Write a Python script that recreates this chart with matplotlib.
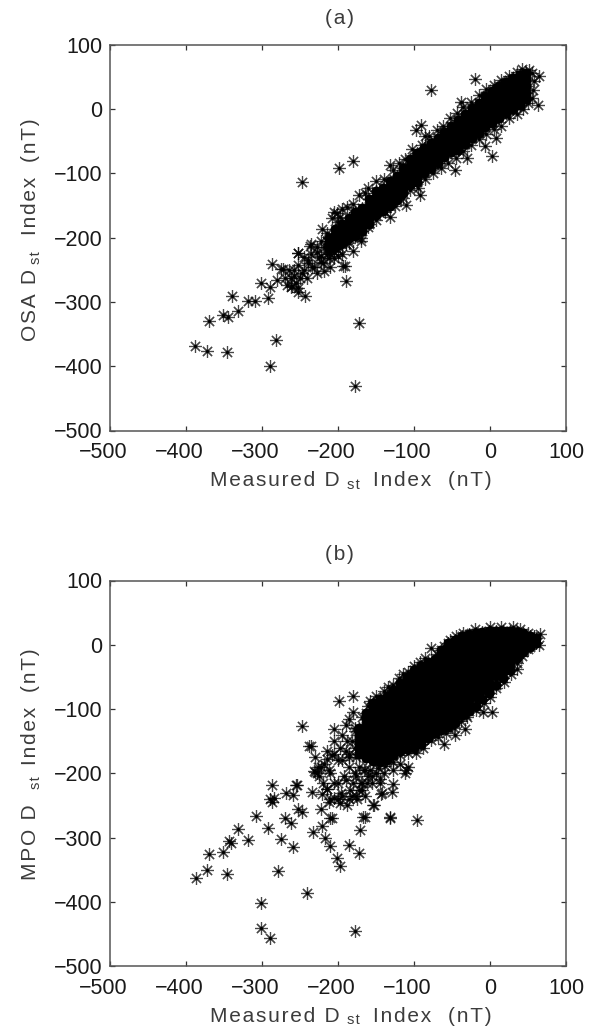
import matplotlib
matplotlib.use("Agg")
import matplotlib.pyplot as plt
from matplotlib.transforms import ScaledTranslation

W, H = 594, 1027

ticks = [-500, -400, -300, -200, -100, 0, 100]

# panel (a): separate stars
measured_a = [-388, -372, -346, -370, -351, -345, -340, -331, -318, -309, -292, -301, -289, -287, -289, -282,
              -178, -172, -190, -191, -243, -253, -262, -267, -272, -280, -258, -253, -253, -241, -234, -236,
              -219, -223, -247, -199, -180, -77, -20, -91, -97, -86, -132, 63, 65, 51, -38, 8, -7, 2, -30, -46,
              -92, -110, -132, -170, -201, -188, -172, -221, -237, -252, -193, -275, -205, -198, -200, -195,
              -208, -232, -228, -220, -215, -225, -210, -205, -215, -195, -180, -170, -245, -240]
osa_a = [-369, -376, -378, -329, -320, -324, -291, -314, -299, -299, -293, -271, -276, -241, -400, -359,
         -431, -333, -268, -244, -291, -284, -276, -273, -249, -265, -260, -242, -223, -263, -245, -210,
         -252, -229, -114, -92, -80, 30, 47, -24, -32, -42, -87, 6, 52, 61, 12, -44, -57, -73, -76, -94,
         -134, -149, -167, -201, -162, -152, -134, -187, -213, -223, -244, -248, -160, -168, -175, -155,
         -170, -245, -215, -240, -225, -230, -245, -215, -205, -225, -220, -205, -250, -235]

# panel (a): stars along the rim of the band and in the lower left clump
rim_x_a = [-180, -165, -160, -150, -140, -128, -120, -112, -102, -90, -80, -70, -62, -52, -44, -35, -25, -15, -5,
           5, 15, 25, 35, 42, 55, 58, 57, 55, 50, 44, 35, 25, 15, 5, -5, -15, -25, -35, -45, -55, -65, -75, -85,
           -95, -105, -115, -125, -138, -150, -160, -170, -185, -198, -215, -222, -228, -205, -190,
           -265, -270, -255, -248, -240, -228, -222, -212, -205, -200, -235, -245, -258, -262, -250, -218, -210,
           -260, -253]
rim_y_a = [-148, -130, -122, -112, -108, -95, -84, -78, -62, -56, -42, -32, -26, -14, -6, 4, 12, 22, 32,
           38, 46, 52, 58, 62, 56, 44, 30, 18, 10, 0, -8, -14, -26, -30, -38, -46, -55, -65, -76, -83, -92, -100,
           -108, -122, -126, -138, -150, -160, -172, -184, -190, -208, -216, -192, -205, -222, -222, -210,
           -250, -262, -270, -255, -240, -255, -238, -232, -232, -228, -225, -230, -250, -262, -262, -215, -225,
           -275, -278]

# panel (a): the solid band, as (measured, [osa values])
band_a = [
    (-212, [-200, -210, -218]), (-204, [-186, -196, -206, -214]), (-195, [-178, -188, -198, -208]),
    (-186, [-170, -180, -190, -200]), (-177, [-160, -170, -180, -190, -198]),
    (-168, [-153, -162, -172, -182, -190]), (-159, [-140, -150, -160, -170, -178]),
    (-150, [-128, -137, -147, -157, -165]), (-141, [-122, -131, -141, -151, -159]),
    (-132, [-112, -122, -131, -141, -150]), (-123, [-104, -114, -123, -133, -142]),
    (-114, [-92, -102, -112, -122, -131]), (-105, [-78, -88, -98, -108, -118]),
    (-96, [-68, -78, -88, -98, -107, -114]), (-87, [-60, -70, -80, -90, -100]),
    (-78, [-52, -62, -72, -82, -92]), (-69, [-44, -54, -64, -74, -84]),
    (-60, [-35, -45, -55, -65, -75]), (-51, [-26, -36, -46, -56, -66]),
    (-42, [-17, -27, -37, -47, -57, -63]), (-33, [-8, -18, -28, -38, -48, -54]),
    (-24, [2, -8, -18, -28, -38, -45]), (-15, [10, 0, -10, -20, -30, -37]),
    (-6, [20, 10, 0, -10, -20, -28]), (3, [28, 18, 8, -2, -12, -22]),
    (12, [36, 26, 16, 6, -4, -14]), (21, [42, 32, 22, 12, 2, -6]),
    (30, [48, 38, 28, 18, 8, 0]), (39, [54, 44, 34, 24, 14, 6]), (48, [56, 46, 36, 26, 16]),
]

# panel (b): separate stars
measured_b = [-387, -372, -370, -351, -346, -344, -341, -331, -318, -308, -292, -287, -287, -284, -290,
              -275, -269, -259, -262, -270, -255, -259, -252, -247, -279, -241, -301, -301, -289, -178,
              -233, -221, -217, -210, -201, -197, -186, -173, -171, -164, -131, -153, -142, -127, -145,
              -236, -232, -234, -223, -210, -197, -212, -184, -173, -77, 66, 65, 35, 2, -9, -46, -61, -33,
              -31, -248, -238, -199, -180, -180, -186, -205, -158, -115, -134, -92, -230, -230, -254,
              -221, -208, -167, -132, -154, -143, -129, -110, -169, -96,
              -215, -205, -195, -190, -218, -208, -198, -188, -178, -225, -212, -200, -185, -172, -220,
              -205, -192, -178, -165, -155, -196, -182, -170, -210, -188, -176, -162, -200, -226, -214]
mpo_b = [-363, -350, -326, -322, -357, -305, -309, -287, -304, -266, -285, -219, -244, -238, -240,
         -302, -231, -315, -277, -270, -218, -234, -255, -260, -352, -387, -402, -441, -456, -446,
         -292, -282, -301, -314, -332, -345, -311, -324, -288, -268, -269, -249, -231, -216, -209,
         -157, -197, -229, -255, -270, -247, -244, -226, -226, -5, 17, -1, -38, -105, -105, -141, -154, -131,
         -110, -127, -158, -88, -80, -104, -115, -131, -88, -45, -66, -27, -175, -198, -219,
         -232, -270, -268, -268, -250, -232, -229, -195, -226, -273,
         -165, -150, -140, -125, -185, -172, -160, -150, -135, -205, -195, -180, -170, -160, -215,
         -215, -205, -200, -195, -205, -230, -235, -215, -240, -250, -235, -215, -240, -190, -225]

# panel (b): stars along the rim of the cloud and in the lower left clump
rim_x_b = [-168, -160, -150, -140, -128, -120, -108, -100, -85, -70, -60, -52, -45, -35, -20, 0, 15, 30, 40, 50,
           58, 58, 50, 42, 35, 28, 18, 8, 0, -8, -18, -30, -38, -48, -58, -68, -78, -88, -98, -108, -118, -128,
           -138, -148, -158, -178, -182, -190, -176, -166, -176, -160, -150, -140, -128, -118, -112, -108, -168,
           -155, -145, -185, -195, -205, -215, -222, -180, -190, -200, -210, -215, -205, -195, -185, -175, -165,
           -228, -185, -172, -178]
rim_y_b = [-112, -95, -80, -72, -62, -52, -42, -33, -20, -15, -2, 8, 13, 19, 24, 27, 27, 27, 24, 18,
           14, 5, -6, -18, -28, -45, -58, -68, -82, -90, -102, -113, -118, -130, -137, -143, -148, -160, -168,
           -168, -172, -182, -188, -192, -195, -130, -150, -165, -175, -195, -205, -205, -200, -200, -195, -185,
           -200, -190, -215, -215, -215, -190, -180, -170, -178, -190, -215, -210, -215, -200, -225, -238, -235,
           -240, -240, -235, -200, -175, -190, -160]

# panel (b): the solid cloud, as (measured, [mpo values])
cloud_b = [
    (-172, [-130, -140, -150, -160, -170]),
    (-163, [-106, -116, -126, -136, -146, -156, -166, -176]),
    (-154, [-91, -101, -111, -121, -131, -141, -151, -161, -171, -181]),
    (-145, [-85, -95, -105, -115, -125, -135, -145, -155, -165, -175, -183]),
    (-136, [-80, -90, -100, -110, -120, -130, -140, -150, -160, -170, -180]),
    (-127, [-70, -80, -90, -100, -110, -120, -130, -140, -150, -160, -172]),
    (-118, [-60, -70, -80, -90, -100, -110, -120, -130, -140, -150, -160, -165]),
    (-109, [-50, -60, -70, -80, -90, -100, -110, -120, -130, -140, -150, -162]),
    (-100, [-40, -50, -60, -70, -80, -90, -100, -110, -120, -130, -140, -150, -160]),
    (-91, [-33, -43, -53, -63, -73, -83, -93, -103, -113, -123, -133, -143, -155]),
    (-82, [-27, -37, -47, -57, -67, -77, -87, -97, -107, -117, -127, -137, -145]),
    (-73, [-22, -32, -42, -52, -62, -72, -82, -92, -102, -112, -122, -132, -138]),
    (-64, [-8, -18, -28, -38, -48, -58, -68, -78, -88, -98, -108, -118, -128, -133]),
    (-55, [3, -7, -17, -27, -37, -47, -57, -67, -77, -87, -97, -107, -117, -128]),
    (-46, [8, -2, -12, -22, -32, -42, -52, -62, -72, -82, -92, -102, -112, -122]),
    (-37, [13, 3, -7, -17, -27, -37, -47, -57, -67, -77, -87, -97, -110]),
    (-28, [16, 6, -4, -14, -24, -34, -44, -54, -64, -74, -84, -94, -103]),
    (-19, [18, 8, -2, -12, -22, -32, -42, -52, -62, -72, -82, -95]),
    (-10, [20, 10, 0, -10, -20, -30, -40, -50, -60, -70, -84]),
    (-1, [21, 11, 1, -9, -19, -29, -39, -49, -59, -68, -75]),
    (8, [21, 11, 1, -9, -19, -29, -39, -49, -62]),
    (17, [21, 11, 1, -9, -19, -29, -39, -52]),
    (26, [21, 11, 1, -9, -19, -29, -40]),
    (35, [20, 10, 0, -10, -20]),
    (44, [18, 8, -2, -12]),
    (53, [14, 4, -3]),
    (60, [10, 3]),
]


def unpack(columns):
    xs, ys = [], []
    for x, col in columns:
        xs += [x] * len(col)
        ys += col
    return xs, ys


def spaced(s):
    # the labels in the picture are widely tracked
    return "\u200a".join(s)


def put(x, y, s, size=15, rotation=0):
    # x, y in picture pixels, anchored on the start of the baseline
    fig.text(x / W, 1 - y / H, spaced(s), ha="left", va="baseline", rotation=rotation, rotation_mode="anchor",
             fontsize=size, color="#3c3c3c")


def stars(ax, xs, ys):
    ax.plot(xs, ys, ls="none", marker=(8, 2, 0), ms=9.3, mew=0.85, color="black", alpha=0.72)
    ax.plot(xs, ys, ls="none", marker="o", ms=2.4, mew=0, color="black")


def panel(box, x, y, rim_x, rim_y, core):
    left, top, right, bottom = box
    ax = fig.add_axes([left / W, 1 - bottom / H, (right - left) / W, (bottom - top) / H])
    core_x, core_y = unpack(core)
    stars(ax, core_x, core_y)
    # overplotted stars merge into solid black in the core
    ax.plot(core_x, core_y, ls="none", marker="o", ms=7.2, mew=0, color="black")
    stars(ax, rim_x, rim_y)
    stars(ax, x, y)
    ax.set_xlim(-500, 100)
    ax.set_ylim(-500, 100)
    ax.set_xticks(ticks)
    ax.set_yticks(ticks)
    ax.tick_params(direction="in", top=True, right=True, length=3.5, width=0.9, color="#333333",
                   labelsize=15.5, labelcolor="#1a1a1a")
    ax.tick_params(axis="x", pad=8.5)
    ax.tick_params(axis="y", pad=5.5)
    # digits sit centred on the tick, the minus sign hangs to the left
    for t, lbl in zip(ticks, ax.get_xticklabels()):
        if t < 0:
            lbl.set_transform(lbl.get_transform() + ScaledTranslation(-6.5 / 100, 0, fig.dpi_scale_trans))
    for s in ax.spines.values():
        s.set_linewidth(1.1)
        s.set_color("#555555")
    return ax


plt.rcParams["font.family"] = ["Liberation Sans", "DejaVu Sans"]

fig = plt.figure(figsize=(W / 100, H / 100), dpi=100)

panel((110, 45, 566, 430.5), measured_a, osa_a, rim_x_a, rim_y_a, band_a)
panel((110, 580.5, 566, 966), measured_b, mpo_b, rim_x_b, rim_y_b, cloud_b)

# panel (a) labels
put(325, 24, "(a)")
put(210, 486, "Measured D")
put(347, 489, "st", size=10.5)
put(373, 486, "Index")
put(448, 486, "(nT)")
put(36, 341, "OSA D", rotation=90)
put(40, 264, "st", size=10.5, rotation=90)
put(36, 235, "Index", rotation=90)
put(36, 162, "(nT)", rotation=90)

# panel (b) labels
put(325, 560, "(b)")
put(210, 1021.5, "Measured D")
put(347, 1024.5, "st", size=10.5)
put(373, 1021.5, "Index")
put(448, 1021.5, "(nT)")
put(36, 880, "MPO D", rotation=90)
put(40, 789, "st", size=10.5, rotation=90)
put(36, 765, "Index", rotation=90)
put(36, 692, "(nT)", rotation=90)

fig.savefig("out.png", dpi=100, facecolor="white")
